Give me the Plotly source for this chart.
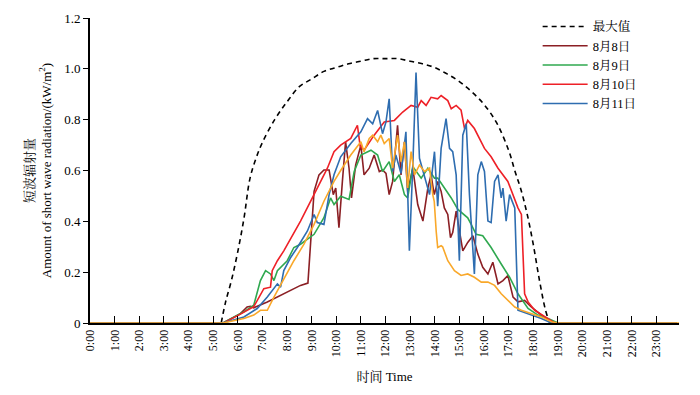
import plotly.graph_objects as go

# ---- data (hours, kW/m2) ----
max_t = [5.33, 5.5, 5.75, 6.0, 6.25, 6.5, 6.75, 7.0, 7.5, 8.0, 8.5, 9.0, 9.5, 10.0, 10.5, 11.0, 11.5, 12.0,
         12.5, 13.0, 13.5, 14.0, 14.5, 15.0, 15.5, 16.0, 16.5, 17.0, 17.25, 17.5, 17.75, 18.0, 18.25, 18.5, 18.67]
max_v = [0, 0.08, 0.17, 0.28, 0.41, 0.57, 0.65, 0.71, 0.80, 0.87, 0.93, 0.96, 0.99, 1.005, 1.02, 1.03, 1.04, 1.04,
         1.04, 1.03, 1.02, 1.005, 0.98, 0.95, 0.91, 0.86, 0.79, 0.68, 0.60, 0.525, 0.43, 0.31, 0.17, 0.05, 0]

d8_t = [0, 5.4, 6.11, 6.38, 6.52, 6.65, 7.2, 7.87, 8.55, 8.85, 9.1, 9.3, 9.5, 9.71, 9.88, 9.98, 10.11, 10.25,
        10.38, 10.52, 10.62, 10.79, 11.0, 11.13, 11.34, 11.54, 11.75, 11.88, 12.02, 12.15, 12.29, 12.49, 12.63,
        12.77, 12.9, 13.11, 13.31, 13.52, 13.72, 13.85, 13.98, 14.12, 14.26, 14.39, 14.53, 14.64, 14.73, 14.87,
        15.0, 15.14, 15.34, 15.55, 15.75, 15.95, 16.16, 16.36, 16.57, 16.77, 16.97, 17.18, 17.38, 17.65, 17.92,
        18.33, 18.74, 19.0, 23.83]
d8_v = [0, 0, 0.037, 0.063, 0.066, 0.06, 0.083, 0.115, 0.148, 0.157, 0.518, 0.583, 0.602, 0.602, 0.505, 0.531,
        0.375, 0.557, 0.713, 0.609, 0.492, 0.622, 0.70, 0.583, 0.609, 0.661, 0.596, 0.602, 0.589, 0.505, 0.557,
        0.778, 0.583, 0.713, 0.518, 0.609, 0.466, 0.401, 0.531, 0.583, 0.505, 0.557, 0.518, 0.453, 0.427, 0.336,
        0.356, 0.44, 0.362, 0.284, 0.317, 0.343, 0.271, 0.219, 0.193, 0.239, 0.154, 0.167, 0.187, 0.102, 0.083,
        0.089, 0.063, 0.031, 0.005, 0, 0]

d9_t = [0, 5.4, 6.25, 6.65, 6.92, 7.13, 7.33, 7.47, 7.61, 8.01, 8.28, 8.55, 9.1, 9.5, 9.77, 9.91, 10.18, 10.52,
        10.73, 11.0, 11.41, 11.68, 11.88, 12.15, 12.36, 12.56, 12.77, 12.9, 13.11, 13.45, 13.72, 13.99, 14.12,
        14.39, 14.67, 14.94, 15.34, 15.48, 15.68, 15.95, 16.29, 16.7, 17.04, 17.38, 17.79, 18.19, 18.6, 19.01, 23.83]
d9_v = [0, 0, 0.044, 0.07, 0.167, 0.206, 0.193, 0.167, 0.206, 0.245, 0.297, 0.31, 0.349, 0.414, 0.492, 0.466,
        0.499, 0.486, 0.596, 0.661, 0.68, 0.661, 0.596, 0.635, 0.557, 0.583, 0.505, 0.492, 0.615, 0.57, 0.609,
        0.57, 0.57, 0.531, 0.492, 0.447, 0.414, 0.388, 0.349, 0.343, 0.297, 0.232, 0.18, 0.115, 0.057, 0.031,
        0.018, 0, 0]

d10_t = [0, 5.43, 6.11, 6.65, 7.06, 7.33, 7.4, 7.61, 7.87, 8.55, 9.23, 9.64, 9.91, 10.18, 10.59, 10.86, 10.97,
         11.13, 11.54, 11.95, 12.36, 12.7, 13.04, 13.31, 13.45, 13.65, 13.85, 14.12, 14.26, 14.53, 14.67, 14.87,
         15.07, 15.21, 15.34, 15.61, 16.02, 16.29, 16.57, 16.97, 17.38, 17.52, 17.65, 17.79, 18.06, 18.47, 18.87, 23.83]
d10_v = [0, 0, 0.035, 0.064, 0.135, 0.141, 0.206, 0.245, 0.284, 0.401, 0.531, 0.609, 0.674, 0.70, 0.726, 0.778,
         0.697, 0.68, 0.739, 0.791, 0.797, 0.83, 0.856, 0.849, 0.875, 0.856, 0.888, 0.882, 0.895, 0.875, 0.843,
         0.856, 0.837, 0.765, 0.797, 0.765, 0.687, 0.654, 0.609, 0.557, 0.453, 0.427, 0.115, 0.083, 0.05, 0.024, 0, 0]

d11_t = [0, 5.4, 6.25, 6.79, 7.2, 7.61, 7.74, 7.87, 8.15, 8.42, 8.83, 9.1, 9.23, 9.5, 9.71, 9.91, 10.18, 10.59,
         11.0, 11.27, 11.48, 11.68, 11.88, 12.02, 12.15, 12.29, 12.42, 12.63, 12.83, 12.97, 13.11, 13.24, 13.38,
         13.58, 13.79, 13.99, 14.12, 14.26, 14.46, 14.6, 14.73, 14.87, 15.0, 15.14, 15.28, 15.41, 15.61, 15.75,
         15.89, 16.02, 16.16, 16.29, 16.43, 16.57, 16.7, 16.77, 16.9, 17.04, 17.25, 17.38, 17.79, 18.33, 18.74, 23.83]
d11_v = [0, 0, 0.024, 0.057, 0.102, 0.154, 0.141, 0.206, 0.258, 0.297, 0.362, 0.427, 0.395, 0.388, 0.505, 0.583,
         0.654, 0.706, 0.752, 0.804, 0.784, 0.836, 0.745, 0.791, 0.882, 0.596, 0.661, 0.589, 0.752, 0.284, 0.622,
         0.985, 0.648, 0.583, 0.505, 0.674, 0.46, 0.687, 0.804, 0.687, 0.674, 0.583, 0.245, 0.739, 0.784, 0.505,
         0.193, 0.583, 0.635, 0.596, 0.401, 0.395, 0.557, 0.583, 0.492, 0.531, 0.401, 0.505, 0.453, 0.05, 0.037,
         0.018, 0, 0]

d12_t = [0, 5.4, 6.25, 6.65, 6.92, 7.2, 7.47, 7.87, 8.28, 8.69, 9.1, 9.5, 9.91, 10.18, 10.59, 11.0, 11.13, 11.34,
         11.48, 11.68, 11.81, 11.95, 12.15, 12.29, 12.49, 12.63, 12.77, 12.9, 13.04, 13.18, 13.38, 13.58, 13.79,
         13.92, 13.98, 14.06, 14.12, 14.26, 14.32, 14.53, 14.8, 15.07, 15.34, 15.61, 15.89, 16.16, 16.43, 16.7,
         16.97, 17.25, 17.52, 17.92, 18.33, 18.74, 19.0, 23.92]
d12_v = [0, 0, 0.018, 0.031, 0.05, 0.05, 0.102, 0.174, 0.245, 0.31, 0.388, 0.479, 0.557, 0.60, 0.661, 0.713,
         0.674, 0.726, 0.739, 0.713, 0.739, 0.706, 0.726, 0.609, 0.739, 0.635, 0.713, 0.531, 0.674, 0.583, 0.622,
         0.596, 0.609, 0.505, 0.479, 0.36, 0.297, 0.304, 0.30, 0.245, 0.206, 0.187, 0.193, 0.18, 0.161, 0.161,
         0.148, 0.115, 0.089, 0.063, 0.05, 0.037, 0.024, 0.005, 0, 0]

x_tickvals = list(range(24))
x_ticktext = [f"{h}:00" for h in range(24)]
y_tickvals = [0, 0.2, 0.4, 0.6, 0.8, 1.0, 1.2]
y_ticktext = ["0", "0.2", "0.4", "0.6", "0.8", "1.0", "1.2"]

FONT = "Times New Roman, Liberation Serif, Noto Serif CJK SC, Noto Sans CJK SC, serif"

fig = go.Figure()
fig.add_trace(go.Scatter(x=max_t, y=max_v, mode="lines", name="最大值", line_shape="spline",
                         line=dict(color="black", width=1.6, dash="5px,4px")))
fig.add_trace(go.Scatter(x=d8_t, y=d8_v, mode="lines", name="8月8日", line=dict(color="#8b1f24", width=1.6)))
fig.add_trace(go.Scatter(x=d9_t, y=d9_v, mode="lines", name="8月9日", line=dict(color="#2fa84f", width=1.6)))
fig.add_trace(go.Scatter(x=d10_t, y=d10_v, mode="lines", name="8月10日", line=dict(color="#ee2027", width=1.6)))
fig.add_trace(go.Scatter(x=d11_t, y=d11_v, mode="lines", name="8月11日", line=dict(color="#2e6db0", width=1.6)))
fig.add_trace(go.Scatter(x=d12_t, y=d12_v, mode="lines", name="8月12日", showlegend=False,
                         line=dict(color="#f9a82a", width=1.6)))

fig.update_layout(
    width=700, height=395,
    margin=dict(l=90, r=21, t=15, b=72),
    paper_bgcolor="white", plot_bgcolor="white",
    font=dict(family=FONT, size=13, color="black"),
    showlegend=True,
    legend=dict(x=0.76, y=1.02, xanchor="left", yanchor="top", bgcolor="rgba(0,0,0,0)",
                font=dict(size=12.5), tracegroupgap=0, itemwidth=45),
)
fig.update_xaxes(range=[0, 23.92], tickvals=x_tickvals, ticktext=x_ticktext, tickangle=-90,
                 showline=True, linecolor="black", linewidth=2, ticks="inside", ticklen=7,
                 tickwidth=1.2, tickcolor="black", showgrid=False, zeroline=False, automargin=False,
                 tickfont=dict(size=12),
                 title=dict(text="时间 Time", font=dict(size=13), standoff=16))
fig.update_yaxes(range=[0, 1.2], tickvals=y_tickvals, ticktext=y_ticktext,
                 showline=True, linecolor="black", linewidth=2, ticks="outside", ticklen=5,
                 tickwidth=1.2, tickcolor="black", showgrid=False, zeroline=False, automargin=False,
                 tickfont=dict(size=13),
                 title=dict(text="短波辐射量<br>Amount of short wave radiation/(kW/m<sup>2</sup>)",
                            font=dict(size=13), standoff=10))

fig.write_html("out.html", config={"displayModeBar": False},
               post_script="document.body.style.margin='0';")
